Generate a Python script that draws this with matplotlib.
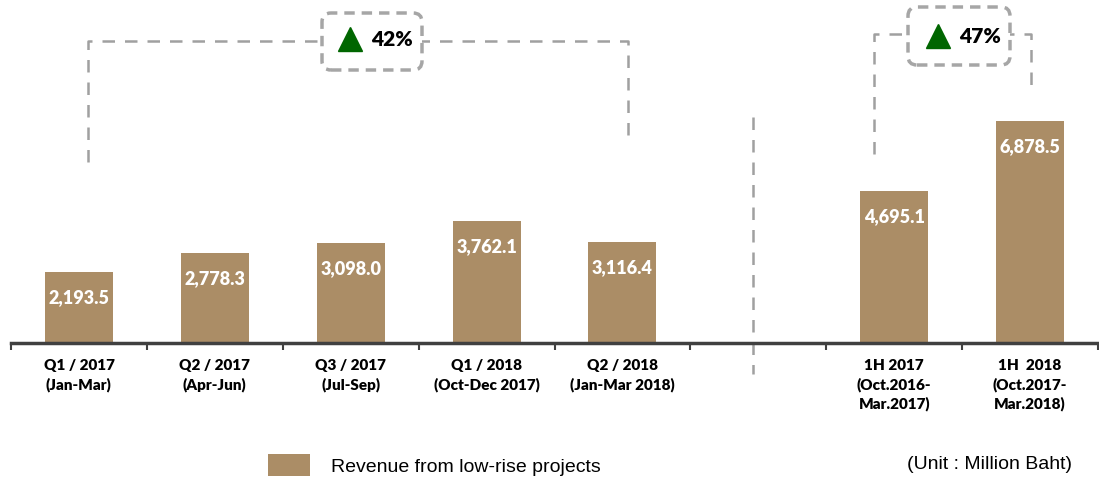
import matplotlib.pyplot as plt
from matplotlib.patches import FancyBboxPatch
from matplotlib.transforms import IdentityTransform

# data
categories = ['Q1 / 2017\n(Jan-Mar)', 'Q2 / 2017\n(Apr-Jun)', 'Q3 / 2017\n(Jul-Sep)',
              'Q1 / 2018\n(Oct-Dec 2017)', 'Q2 / 2018\n(Jan-Mar 2018)',
              '1H 2017\n(Oct.2016-\nMar.2017)', '1H  2018\n(Oct.2017-\nMar.2018)']
revenue = [2193.5, 2778.3, 3098.0, 3762.1, 3116.4, 4695.1, 6878.5]
slots = [0, 1, 2, 3, 4, 6, 7]   # slot 5 left empty as a gap
growth_labels = ['42%', '47%']
series_name = 'Revenue from low-rise projects'
unit_note = '(Unit : Million Baht)'

BAR = '#AB8D66'
GREY = '#A0A0A0'
W, H = 1099, 481

plt.rcParams['font.family'] = ['Lato', 'DejaVu Sans']

fig = plt.figure(figsize=(W / 100, H / 100), dpi=100)
ax = fig.add_axes([11 / W, 137 / H, 1087 / W, 344 / H])
ax.set_xlim(-0.5, 7.5)
ax.set_ylim(0, 10650)

bars = ax.bar(slots, revenue, width=0.5, color=BAR, zorder=2)
for x, v in zip(slots, revenue):
    ax.annotate(f'{v:,.1f}', (x, v), xytext=(0, -17.5), textcoords='offset points',
                ha='center', va='center', color='white', fontsize=13, fontweight='heavy')

for s in ['top', 'left', 'right']:
    ax.spines[s].set_visible(False)
ax.spines['bottom'].set_color('#404040')
ax.spines['bottom'].set_linewidth(2.5)
ax.set_yticks([])
ax.set_xticks(slots)
ax.set_xticklabels(categories, fontsize=11, fontweight='heavy', linespacing=1.4)
ax.tick_params(axis='x', which='major', length=0, pad=11)
ax.set_xticks([i - 0.5 for i in range(9)], minor=True)
ax.tick_params(axis='x', which='minor', length=5, width=1.5, color='#404040')

# growth brackets (x in data, y in axes fraction)
tr = ax.get_xaxis_transform()
dash = dict(color=GREY, lw=1.8, dashes=(5, 4), transform=tr, clip_on=False, zorder=1)
ax.plot([0.07, 0.07, 4.04, 4.04], [0.526, 0.878, 0.878, 0.599], **dash)
ax.plot([5.85, 5.85, 7.01, 7.01], [0.549, 0.898, 0.898, 0.747], **dash)
ax.plot([4.96, 4.96], [0.657, -0.09], **dash)

# rounded dashed boxes with arrow and percentage
for (x0, y0, w, h), (tx, ty), lab in zip([(322, 410, 100, 57), (908, 415, 102, 58)],
                                          [(350, 441), (938, 444)], growth_labels):
    box = FancyBboxPatch((x0, y0), w, h, boxstyle='round,pad=0,rounding_size=9',
                         transform=IdentityTransform(), facecolor='white',
                         edgecolor='#A6A6A6', lw=2.5, linestyle=(0, (3, 2)), zorder=5)
    fig.patches.append(box)
    fig.lines.append(plt.Line2D([tx], [ty], marker='^', markersize=17, color='#006600',
                                transform=IdentityTransform(), zorder=6))
    fig.text((tx + 21) / W, ty / H, lab, ha='left', va='center', fontsize=15,
             fontweight='heavy', zorder=6)

fig.legend([bars], [series_name], loc='center left', bbox_to_anchor=(268 / W, 1 - 466 / H),
           frameon=False, borderpad=0, borderaxespad=0, handlelength=2.16,
           handleheight=1.39, handletextpad=1.1,
           prop={'family': 'Liberation Sans', 'size': 14})
fig.text(1072 / W, 1 - 465 / H, unit_note, ha='right', va='center',
         fontsize=14, family='Liberation Sans')

fig.savefig('out.png', dpi=100)
